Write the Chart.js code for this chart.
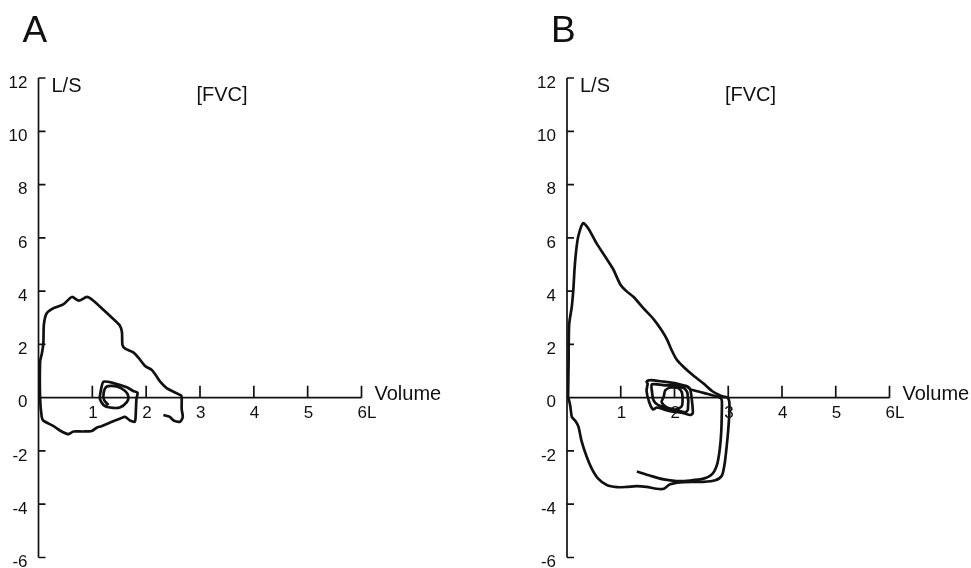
<!DOCTYPE html>
<html>
<head>
<meta charset="utf-8">
<script src="https://cdn.jsdelivr.net/npm/chart.js@4.4.1/dist/chart.umd.min.js"></script>
<style>
  html, body { margin: 0; padding: 0; background: #fff; overflow: hidden; }
  body { width: 971px; height: 568px; position: relative; }
  canvas { position: absolute; top: 0; }
  #loopA { left: 0; }
  #loopB { left: 528px; }
</style>
</head>
<body>
<canvas id="loopA" width="460" height="568"></canvas>
<canvas id="loopB" width="460" height="568"></canvas>
<script>
// axis ticks
const flowTicks = [-6, -4, -2, 0, 2, 4, 6, 8, 10, 12]
const volumeTicks = [1, 2, 3, 4, 5, 6]
const volumeTickLabels = ["1", "2", "3", "4", "5", "6L"]

// panel A : one trace (volume in L, flow in L/S)
const volumeA = [2.32, 2.44, 2.51, 2.63, 2.68, 2.66, 2.66, 2.65, 2.51, 2.38, 2.26, 2.17, 2.10, 1.98, 1.86, 1.76, 1.61, 1.56, 1.55, 1.51, 1.39, 1.21, 1.02, 0.90, 0.75, 0.62, 0.46, 0.28, 0.15, 0.10, 0.09, 0.06, 0.03, 0.03, 0.06, 0.09, 0.28, 0.43, 0.55, 0.65, 0.83, 0.99, 1.08, 1.17, 1.33, 1.51, 1.61, 1.70, 1.79, 1.81, 1.82, 1.84, 1.76, 1.64, 1.39, 1.21, 1.17, 1.14, 1.21, 1.33, 1.51, 1.64, 1.67, 1.61, 1.45, 1.27, 1.21, 1.22, 1.30]
const flowA = [-0.65, -0.72, -0.86, -0.90, -0.72, -0.44, -0.03, 0.08, 0.22, 0.36, 0.60, 0.87, 1.05, 1.19, 1.49, 1.70, 1.84, 1.98, 2.46, 2.71, 2.95, 3.29, 3.64, 3.78, 3.64, 3.78, 3.50, 3.36, 3.16, 2.74, 2.05, 1.63, 1.36, -0.03, -0.72, -0.86, -1.07, -1.27, -1.37, -1.27, -1.27, -1.25, -1.13, -1.07, -0.93, -0.79, -0.72, -0.86, -0.90, -0.44, -0.03, 0.18, 0.25, 0.39, 0.55, 0.60, 0.39, -0.03, -0.28, -0.37, -0.37, -0.17, 0.04, 0.25, 0.42, 0.42, 0.18, -0.10, -0.28]

// panel B : tidal loops + inner inspiratory trace
const volumeB1 = [1.30, 1.55, 1.80, 2.04, 2.29, 2.54, 2.70, 2.79, 2.84, 2.87, 2.88, 2.88, 2.85, 2.54, 2.29, 2.23, 2.04, 1.80, 1.55, 1.48, 1.50, 1.48, 1.53, 1.60, 1.67, 1.92, 2.17, 2.29, 2.34, 2.32, 2.29, 2.24, 2.17, 1.86, 1.58, 1.58, 1.61, 1.70, 1.95, 2.20, 2.25, 2.24, 2.17, 1.95, 1.83, 1.80, 1.76, 1.86, 2.04, 2.14, 2.14, 2.07, 1.95]
const flowB1 = [-2.77, -2.93, -3.07, -3.13, -3.11, -3.04, -2.87, -2.52, -1.97, -1.27, -0.58, -0.10, 0.00, 0.18, 0.32, 0.42, 0.53, 0.60, 0.66, 0.60, 0.53, 0.25, -0.17, -0.44, -0.37, -0.51, -0.58, -0.65, -0.58, -0.03, 0.32, 0.42, 0.46, 0.46, 0.50, 0.25, -0.10, -0.28, -0.42, -0.55, -0.44, 0.18, 0.36, 0.39, 0.28, 0.04, -0.17, -0.37, -0.44, -0.30, 0.18, 0.36, 0.39]

// panel B : forced expiration + outer inspiration
const volumeB2 = [0.02, 0.03, 0.04, 0.09, 0.12, 0.14, 0.17, 0.21, 0.30, 0.40, 0.55, 0.71, 0.86, 0.99, 1.11, 1.24, 1.42, 1.61, 1.76, 1.86, 1.95, 2.04, 2.17, 2.35, 2.54, 2.70, 2.85, 2.91, 2.99, 3.02, 3.02, 3.00, 2.97, 2.93, 2.88, 2.76, 2.54, 2.17, 1.92, 1.80, 1.67, 1.48, 1.30, 1.11, 0.93, 0.74, 0.58, 0.46, 0.37, 0.27, 0.21, 0.15, 0.09, 0.06, 0.03]
const flowB2 = [-0.03, 1.36, 2.74, 3.43, 4.12, 4.82, 5.51, 6.06, 6.55, 6.34, 5.79, 5.30, 4.82, 4.26, 3.99, 3.78, 3.36, 2.95, 2.53, 2.19, 1.77, 1.43, 1.15, 0.83, 0.53, 0.25, 0.08, 0.04, 0.00, -0.17, -0.58, -1.20, -1.85, -2.52, -2.93, -3.10, -3.16, -3.17, -3.25, -3.42, -3.42, -3.35, -3.32, -3.35, -3.36, -3.28, -3.04, -2.66, -2.24, -1.62, -1.07, -0.86, -0.72, -0.30, -0.03]

const ink = "#111"
const font = "Liberation Sans, Arial, sans-serif"

const toPoints = (xs, ys) => xs.map((v, i) => ({ x: v, y: ys[i] }))

const loopAxes = {
  id: "loopAxes",
  beforeDatasetsDraw(chart, args, opts) {
    const { ctx, scales: { x, y } } = chart
    const x0 = x.getPixelForValue(0)
    const y0 = y.getPixelForValue(0)
    const yTop = y.getPixelForValue(12)
    const yBot = y.getPixelForValue(-6)
    const x6 = x.getPixelForValue(6)

    ctx.save()
    ctx.strokeStyle = ink
    ctx.lineWidth = 1.7
    ctx.beginPath()
    ctx.moveTo(x0, yTop)
    ctx.lineTo(x0, yBot)
    ctx.moveTo(x0, y0)
    ctx.lineTo(x6, y0)
    flowTicks.forEach(t => {
      const py = y.getPixelForValue(t)
      ctx.moveTo(x0, py)
      ctx.lineTo(x0 + 7, py)
    })
    volumeTicks.forEach(t => {
      const px = x.getPixelForValue(t)
      ctx.moveTo(px, y0)
      ctx.lineTo(px, y0 - 12)
    })
    ctx.stroke()

    ctx.fillStyle = ink
    ctx.font = `17px ${font}`
    ctx.textAlign = "right"
    ctx.textBaseline = "middle"
    flowTicks.forEach(t => {
      ctx.fillText(String(t), x0 - 11, y.getPixelForValue(t) + 5)
    })
    ctx.textAlign = "left"
    volumeTicks.forEach((t, i) => {
      ctx.fillText(volumeTickLabels[i], x.getPixelForValue(t) - 4, y0 + 16)
    })

    ctx.font = `20px ${font}`
    ctx.fillText("L/S", x0 + 13, yTop + 8)
    ctx.fillText("[FVC]", x0 + 158, yTop + 17)
    ctx.fillText("Volume", x6 + 13, y0 - 3)

    ctx.font = `37px ${font}`
    ctx.textBaseline = "alphabetic"
    ctx.fillText(opts.letter, x0 - 16, 42)
    ctx.restore()
  }
}

const makeLoop = (id, letter, padLeft, datasets) => new Chart(document.getElementById(id), {
  type: "scatter",
  data: {
    datasets: datasets.map(d => ({
      data: d,
      showLine: true,
      borderColor: ink,
      borderWidth: 2.7,
      pointRadius: 0,
      tension: 0.25,
      fill: false
    }))
  },
  options: {
    responsive: false,
    animation: false,
    layout: { padding: { left: padLeft, right: 98.5, top: 78, bottom: 10.5 } },
    scales: {
      x: { type: "linear", min: 0, max: 6, display: false },
      y: { type: "linear", min: -6, max: 12, display: false }
    },
    plugins: {
      legend: { display: false },
      tooltip: { enabled: false },
      loopAxes: { letter: letter }
    }
  },
  plugins: [loopAxes]
})

makeLoop("loopA", "A", 38.5, [toPoints(volumeA, flowA)])
makeLoop("loopB", "B", 39, [toPoints(volumeB1, flowB1), toPoints(volumeB2, flowB2)])
</script>
</body>
</html>
